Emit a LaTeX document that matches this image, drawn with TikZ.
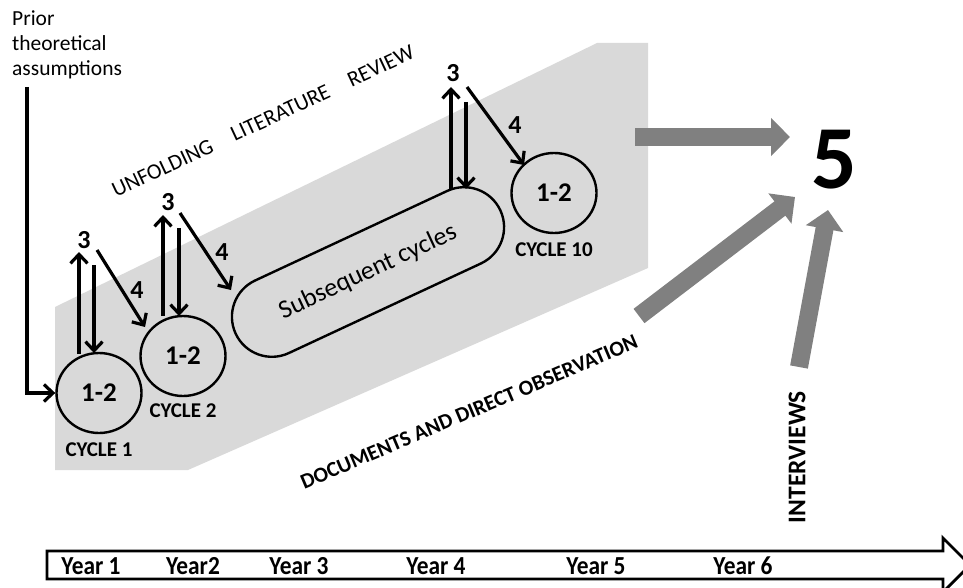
\documentclass[tikz,border=0pt]{standalone}
\usepackage{fontspec}
\usepackage{graphicx}
\setmainfont{Carlito}
\usetikzlibrary{arrows.meta,shapes.geometric,shapes.misc,calc}

\definecolor{bandgray}{HTML}{D9D9D9}
\definecolor{arrgray}{HTML}{808080}

\newcommand{\fsz}[1]{\fontsize{#1}{#1}\selectfont}
\newcommand{\narrowtext}[1]{\scalebox{0.9}[1]{#1}}

\tikzset{
  cyc/.style={draw, line width=2.4pt, ellipse, minimum width=85pt, minimum height=80pt,
              inner sep=0pt, font=\bfseries\fsz{27}},
  cyclab/.style={inner sep=0pt, font=\bfseries\fsz{21}},
  num/.style={inner sep=0pt, font=\bfseries\fsz{26}},
  blk/.style={line width=3.2pt, -{Straight Barb[length=9pt,width=17pt]}},
  grayarr/.style={draw=arrgray, line width=18pt, line cap=butt,
                  -{Triangle[length=19pt,width=37pt]}},
  yearlab/.style={inner sep=0pt, font=\bfseries\fsz{26}},
}

\begin{document}
\begin{tikzpicture}[x=1pt,y=-1pt]
  \useasboundingbox (0,0) rectangle (963,588);

  % shaded band of the cycles
  \fill[bandgray] (55,307) -- (597,43) -- (648,43) -- (648,268) -- (188,470) -- (55,470) -- cycle;

  % starting assumptions
  \node[anchor=north west, inner sep=0pt, align=left, font=\fontsize{21.5}{25}\selectfont]
    (prior) at (12,11) {Prior\\theoretical\\assumptions};

  % cycles
  \node[cyc] (c1) at (99,393) {1-2};
  \node[cyclab] (l1) at (99,450) {CYCLE 1};
  \node[cyc] (c2) at (183,356) {1-2};
  \node[cyclab] (l2) at (183,411) {CYCLE 2};
  \node[draw, line width=2.4pt, rounded rectangle, minimum width=292pt, minimum height=80pt,
        rotate=25, inner sep=0pt, font=\fsz{26}] (sub) at (368,272) {Subsequent cycles};
  \node[cyc] (c10) at (554,193) {1-2};
  \node[cyclab] (l10) at (554,250) {CYCLE 10};

  % step labels
  \node[num] (t1) at (84,240) {3};
  \node[num] (f1) at (137,290) {4};
  \node[num] (t2) at (168,202) {3};
  \node[num] (f2) at (222,252) {4};
  \node[num] (t10) at (453,73) {3};
  \node[num] (f10) at (515,125) {4};

  % entry arrow
  \coordinate (entry) at (27,87);
  \draw[blk] (entry) |- (c1.west);

  % cycle 1 loops
  \draw[blk] ($(c1.center)+(-20,-39)$) -- ($(t1.center)+(-5,12)$);
  \draw[blk] ($(t1.center)+(10,25)$) -- ($(c1.center)+(-5,-40)$);
  \draw[blk] ($(t1.center)+(13,10)$) -- ($(c2.center)+(-38,-29)$);

  % cycle 2 loops
  \draw[blk] ($(c2.center)+(-20,-40)$) -- ($(t2.center)+(-5,13)$);
  \draw[blk] ($(t2.center)+(11,26)$) -- ($(c2.center)+(-4,-40)$);
  \draw[blk] ($(t2.center)+(12,11)$) -- ($(sub.center)+(-137,18)$);

  % last loops
  \draw[blk] ($(sub.center)+(83,-83)$) -- ($(t10.center)+(-2,14)$);
  \draw[blk] ($(t10.center)+(13,29)$) -- ($(sub.center)+(98,-83)$);
  \draw[blk] ($(t10.center)+(14,14)$) -- ($(c10.center)+(-30,-28)$);

  % band texts
  \node[rotate=25, inner sep=0pt, font=\fsz{22}] (ulr) at (263,121)
    {UNFOLDING\hspace{1.0em}LITERATURE\hspace{1.0em}REVIEW};
  \node[rotate=23, inner sep=0pt, font=\bfseries\fsz{21.5}] (doc) at (469,412)
    {DOCUMENTS AND DIRECT OBSERVATION};
  \node[rotate=90, inner sep=0pt, font=\bfseries\fsz{25.5}] (int) at (797,457) {INTERVIEWS};

  % outcome
  \node[inner sep=0pt, font=\bfseries\fsz{90}] (five) at (834,160) {5};
  \coordinate (g1) at (635,137);
  \coordinate (g2) at (639,316);
  \coordinate (g3) at (799,367);
  \draw[grayarr] (g1) -- ($(five.center)+(-44,-23)$);
  \draw[grayarr] (g2) -- ($(five.center)+(-39,37)$);
  \draw[grayarr] (g3) -- ($(five.center)+(-6,50)$);

  % time line
  \draw[line width=2.8pt, fill=white] (47,551) -- (943,551) -- (943,538) -- (970,565)
    -- (943,592) -- (943,579) -- (47,579) -- cycle;
  \node[yearlab] (y1) at (91,566) {\narrowtext{Year 1}};
  \node[yearlab] (y2) at (193,566) {\narrowtext{Year2}};
  \node[yearlab] (y3) at (299,566) {\narrowtext{Year 3}};
  \node[yearlab] (y4) at (436,566) {\narrowtext{Year 4}};
  \node[yearlab] (y5) at (596,566) {\narrowtext{Year 5}};
  \node[yearlab] (y6) at (743,566) {\narrowtext{Year 6}};
\end{tikzpicture}
\end{document}
